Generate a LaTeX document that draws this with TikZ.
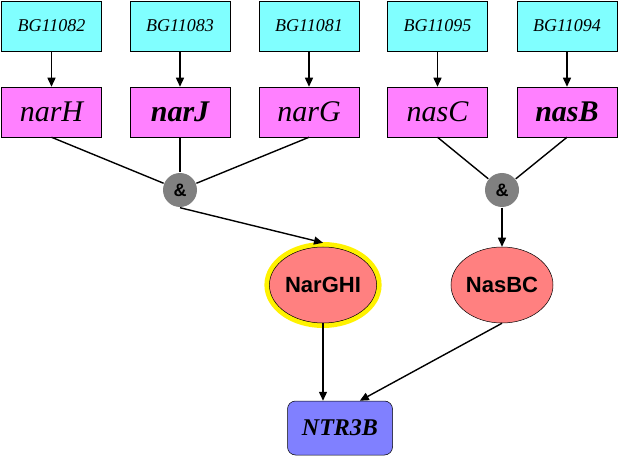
\documentclass[tikz,border=0pt]{standalone}
\usepackage{fontspec}
\setmainfont{Liberation Serif}
\newfontfamily\arialfont{Liberation Sans}
\usetikzlibrary{shapes,arrows,positioning,calc,arrows.meta}
\definecolor{idcyan}{RGB}{128,255,255}
\definecolor{genepink}{RGB}{255,128,255}
\definecolor{protred}{RGB}{255,128,128}
\definecolor{reactblue}{RGB}{128,128,255}
\definecolor{andgray}{RGB}{128,128,128}

\begin{document}
\begin{tikzpicture}[x=1pt, y=-1pt, line width=1.4pt,
    >={Triangle[length=9pt,width=8pt]},
    idbox/.style={draw, line width=0.5pt, fill=idcyan, minimum width=100pt, minimum height=50pt, inner sep=0pt, font=\itshape\fontsize{18}{18}\selectfont},
    genebox/.style={draw, line width=0.5pt, fill=genepink, minimum width=100pt, minimum height=50pt, inner sep=0pt, font=\itshape\fontsize{30}{30}\selectfont},
    andnode/.style={circle, fill=andgray, minimum size=34pt, inner sep=0pt, font=\arialfont\bfseries\fontsize{18}{18}\selectfont},
    protein/.style={ellipse, draw, line width=0.5pt, fill=protred, minimum width=100pt, minimum height=76pt, inner sep=0pt, font=\arialfont\bfseries\fontsize{22}{22}\selectfont},
    reaction/.style={draw, line width=0.5pt, fill=reactblue, rounded corners=8pt, minimum width=105pt, minimum height=54pt, inner sep=0pt, font=\bfseries\itshape\fontsize{24}{24}\selectfont}]
    \fill [white] (0, 0) rectangle (619, 457);
    % Gene identifiers
    \node [idbox] (bg82) at (51.5, 26) {BG11082};
    \node [idbox] (bg83) at (180, 26) {BG11083};
    \node [idbox] (bg81) at (309, 26) {BG11081};
    \node [idbox] (bg95) at (437.5, 26) {BG11095};
    \node [idbox] (bg94) at (567, 26) {BG11094};
    % Genes
    \node [genebox] (narH) at (51.5, 112) {narH};
    \node [genebox] (narJ) at (180, 112) {\bfseries narJ};
    \node [genebox] (narG) at (309, 112) {narG};
    \node [genebox] (nasC) at (437.5, 112) {nasC};
    \node [genebox] (nasB) at (567, 112) {\bfseries nasB};
    \draw [->] (bg82) -- (narH);
    \draw [->] (bg83) -- (narJ);
    \draw [->] (bg81) -- (narG);
    \draw [->] (bg95) -- (nasC);
    \draw [->] (bg94) -- (nasB);
    % Complexes
    \node [andnode] (andNar) at (180, 190) {\&};
    \node [andnode] (andNas) at (502, 190) {\&};
    \draw (narH.south) -- (andNar);
    \draw (narJ.south) -- (andNar);
    \draw (narG.south) -- (andNar);
    \draw (nasC.south) -- (andNas);
    \draw (nasB.south) -- (andNas);
    \node [protein, preaction={draw=yellow, line width=10pt}] (NarGHI) at (323, 285) {NarGHI};
    \node [protein] (NasBC) at (502, 285) {NasBC};
    \draw [->] (andNar.south) -- ($(NarGHI.north)+(0,-4)$);
    \draw [->] (andNas.south) -- (NasBC.north);
    % Reaction
    \node [reaction] (NTR3B) at (340, 428) {NTR3B};
    \draw [->] (NarGHI.south) -- (NarGHI.south |- NTR3B.north);
    \draw [->] (NasBC.south) -- (NTR3B.54);
\end{tikzpicture}
\end{document}
